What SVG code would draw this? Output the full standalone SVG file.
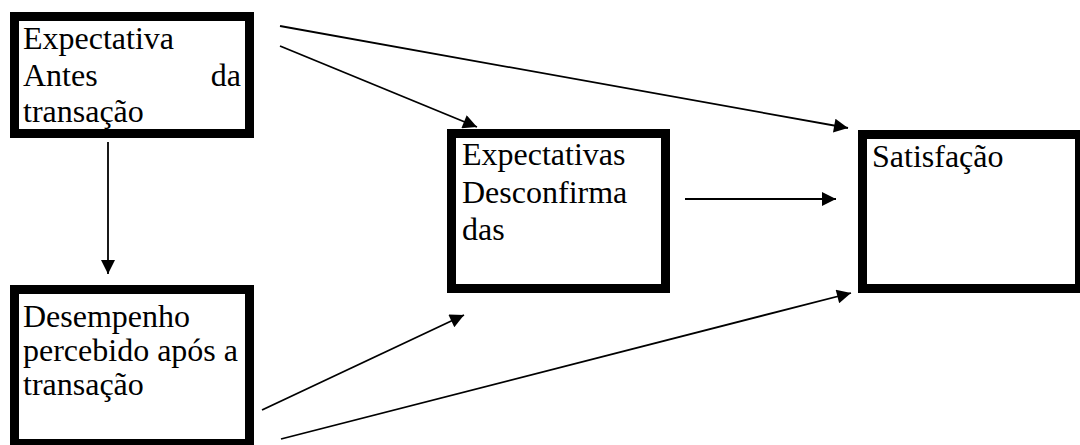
<svg xmlns="http://www.w3.org/2000/svg" width="1080" height="445" viewBox="0 0 1080 445" font-family="Liberation Serif, Times New Roman, serif" font-size="32">
<style>
.box{fill:#fff;stroke:#000;stroke-width:9}
.t{fill:#000}
.c{stroke:#000;stroke-width:1.8;fill:none;marker-end:url(#ah)}
</style>
<defs>
<marker id="ah" viewBox="0 0 10 10" refX="10" refY="5" markerWidth="16" markerHeight="14" markerUnits="userSpaceOnUse" orient="auto">
<path d="M0,0 L10,5 L0,10 Z" fill="#000"/>
</marker>
</defs>
<rect width="1080" height="445" fill="#fff"/>
<g id="n1">
<rect class="box" x="14.5" y="16.5" width="235" height="117"/>
<text class="t" x="23" y="49">Expectativa</text>
<text class="t" x="23" y="86">Antes</text>
<text class="t" x="241" y="86" text-anchor="end">da</text>
<text class="t" x="23" y="122">transação</text>
</g>
<g id="n2">
<rect class="box" x="14.5" y="289.5" width="235" height="154"/>
<text class="t" x="23" y="327">Desempenho</text>
<text class="t" x="23" y="361">percebido após a</text>
<text class="t" x="23" y="395">transação</text>
</g>
<g id="n3">
<rect class="box" x="451.5" y="133.5" width="214" height="155"/>
<text class="t" x="462" y="165">Expectativas</text>
<text class="t" x="462" y="203">Desconfirma</text>
<text class="t" x="462" y="240">das</text>
</g>
<g id="n4">
<rect class="box" x="862.5" y="134.5" width="217" height="154"/>
<text class="t" x="872" y="167">Satisfação</text>
</g>
<g id="connectors">
<line class="c" x1="108" y1="142" x2="108" y2="274"/>
<line class="c" x1="280" y1="26" x2="848" y2="128"/>
<line class="c" x1="280" y1="46" x2="477" y2="127"/>
<line class="c" x1="685" y1="199" x2="836" y2="199"/>
<line class="c" x1="262" y1="410" x2="464" y2="315"/>
<line class="c" x1="281" y1="439" x2="851" y2="293"/>
</g>
</svg>
